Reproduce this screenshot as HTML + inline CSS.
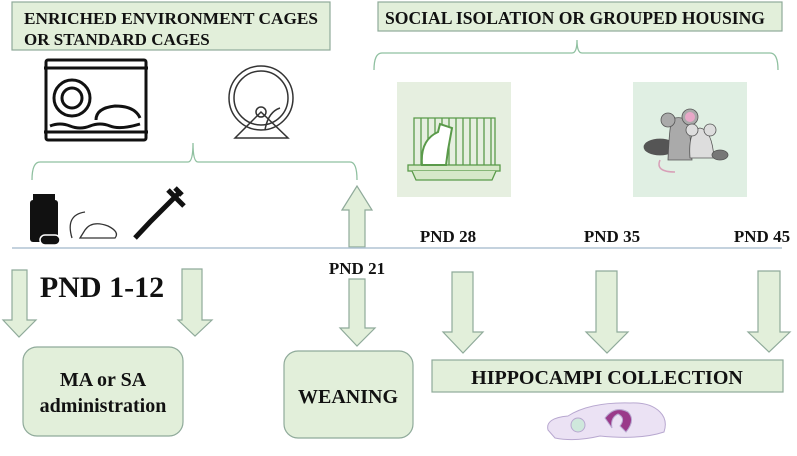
<!DOCTYPE html>
<html><head><meta charset="utf-8"><style>
body{margin:0;background:#fff}
svg{display:block}
text{font-family:"Liberation Serif",serif;font-weight:bold;fill:#111}
</style></head><body>
<svg width="797" height="456" viewBox="0 0 797 456">
<g fill="#e2efda" stroke="#8faa9a" stroke-width="1.2">
<rect x="12" y="2" width="318" height="48"/>
<rect x="378" y="2" width="404" height="29"/>
<rect x="432" y="360" width="351" height="32"/>
<rect x="23" y="347" width="160" height="89" rx="14"/>
<rect x="284" y="351" width="129" height="87" rx="14"/>
<path d="M342 210 L357 186 L372 210 L365 210 L365 247 L349 247 L349 210 Z"/>
<path d="M349 279 L365 279 L365 328 L375 328 L357 346 L340 328 L349 328 Z"/>
<path d="M12 270 L27 270 L27 320 L36 320 L19 337 L3 320 L12 320 Z"/>
<path d="M182 269 L202 269 L202 320 L212 320 L195 336 L178 320 L182 320 Z"/>
<path d="M452 272 L473 272 L473 332 L483 332 L463 353 L443 332 L452 332 Z"/>
<path d="M596 271 L617 271 L617 332 L628 332 L607 353 L586 332 L596 332 Z"/>
<path d="M758 271 L780 271 L780 332 L790 332 L769 352 L748 332 L758 332 Z"/>
</g>
<line x1="12" y1="248" x2="782" y2="248" stroke="#b0c4d4" stroke-width="1.5"/>
<g fill="none" stroke="#8fc0a0" stroke-width="1.3">
<path d="M32 180 Q32 162 40 162 L188 162 Q193 162 193 143 Q193 162 198 162 L350 162 Q357 162 357 180"/>
<path d="M374 70 Q374 53 382 53 L572 53 Q577 53 577 40 Q577 53 582 53 L770 53 Q778 53 778 70"/>
</g>
<rect x="397" y="82" width="114" height="115" fill="#e6efe0"/>
<rect x="633" y="82" width="114" height="115" fill="#e0efe3"/>
<g stroke="#5a9a4a" fill="none" stroke-width="1.3">
<path d="M414 170 V118 H495 V170 M421 118V170 M428 118V170 M435 118V170 M442 118V170 M449 118V170 M456 118V170 M463 118V170 M470 118V170 M477 118V170 M484 118V170 M491 118V170"/>
<rect x="408" y="165" width="92" height="6" fill="#d6e8c8"/>
<path d="M412 171 L416 180 H492 L496 171" fill="#d6e8c8"/>
<path d="M422 165 Q420 140 438 132 L440 124 L452 128 L448 150 L446 165 Z" fill="#fff" stroke-width="2"/>
</g>
<g stroke="#555" stroke-width="0.8">
<ellipse cx="660" cy="147" rx="16" ry="8" fill="#555"/>
<path d="M668 160 Q670 110 675 118 Q690 115 690 135 L692 160 Z" fill="#aaa"/>
<circle cx="668" cy="120" r="7" fill="#aaa"/><circle cx="690" cy="117" r="8" fill="#aaa"/>
<circle cx="690" cy="117" r="5" fill="#e8a8c8" stroke="none"/>
<path d="M690 158 Q688 130 700 128 Q712 130 714 158 Z" fill="#ddd"/>
<circle cx="692" cy="130" r="6" fill="#ddd"/><circle cx="710" cy="130" r="6" fill="#ddd"/>
<ellipse cx="720" cy="155" rx="8" ry="5" fill="#777"/>
<path d="M660 160 Q655 172 675 172" fill="none" stroke="#d8a0b8" stroke-width="1.5"/>
</g>
<g stroke="#111" stroke-width="3" fill="none">
<rect x="46" y="60" width="100" height="80" rx="2"/>
<line x1="44" y1="68" x2="148" y2="68"/><line x1="44" y1="132" x2="148" y2="132"/>
<circle cx="72" cy="98" r="18"/><circle cx="72" cy="98" r="10"/>
<path d="M96 120 Q96 108 115 106 Q135 106 140 118"/>
<path d="M50 126 Q60 122 70 126 Q80 130 90 126 Q100 122 110 126 Q120 130 140 124"/>
</g>
<g stroke="#333" stroke-width="1.5" fill="none">
<circle cx="261" cy="98" r="32"/><circle cx="261" cy="98" r="27"/>
<path d="M235 138 L261 112 L288 138 Z"/><circle cx="261" cy="112" r="5"/>
<path d="M265 130 Q268 112 280 108"/>
</g>
<g fill="#111">
<rect x="30" y="200" width="28" height="42" rx="3"/><rect x="33" y="194" width="22" height="6"/>
<rect x="40" y="235" width="20" height="10" rx="5" stroke="#fff" stroke-width="1.5"/>
</g>
<path d="M72 238 Q65 215 85 212 M80 238 H115 Q120 232 108 226 Q92 220 85 230 Z" stroke="#333" fill="none" stroke-width="1.3"/>
<path d="M135 238 L150 222 L172 200 L180 192 M168 190 L184 206 M175 188 L182 195" stroke="#111" stroke-width="5" fill="none"/>
<g stroke="#b8a8d0" stroke-width="1">
<path d="M548 430 Q545 418 568 416 Q590 402 630 403 Q650 402 660 412 Q668 420 664 432 Q640 440 600 436 Q575 442 555 438 Z" fill="#ebe2f4"/>
<circle cx="578" cy="425" r="7" fill="#cfe8dc"/>
<path d="M605 418 Q615 405 628 412 Q636 420 626 432 L620 426 Q626 418 618 414 Q610 418 612 428 Z" fill="#9a3a8a"/>
</g>
<text x="24" y="24" font-size="17" textLength="294" lengthAdjust="spacingAndGlyphs">ENRICHED ENVIRONMENT CAGES</text>
<text x="24" y="45" font-size="17">OR STANDARD CAGES</text>
<text x="385" y="24" font-size="18" textLength="380" lengthAdjust="spacingAndGlyphs">SOCIAL ISOLATION OR GROUPED HOUSING</text>
<text x="448" y="242" font-size="17" text-anchor="middle">PND 28</text>
<text x="612" y="242" font-size="17" text-anchor="middle">PND 35</text>
<text x="762" y="242" font-size="17" text-anchor="middle">PND 45</text>
<text x="357" y="274" font-size="17" text-anchor="middle">PND 21</text>
<text x="102" y="297" font-size="30" text-anchor="middle">PND 1-12</text>
<text x="103" y="386" font-size="20" text-anchor="middle">MA or SA</text>
<text x="103" y="412" font-size="20" text-anchor="middle">administration</text>
<text x="348" y="403" font-size="20" text-anchor="middle">WEANING</text>
<text x="607" y="384" font-size="20" text-anchor="middle">HIPPOCAMPI COLLECTION</text>
</svg>
</body></html>
